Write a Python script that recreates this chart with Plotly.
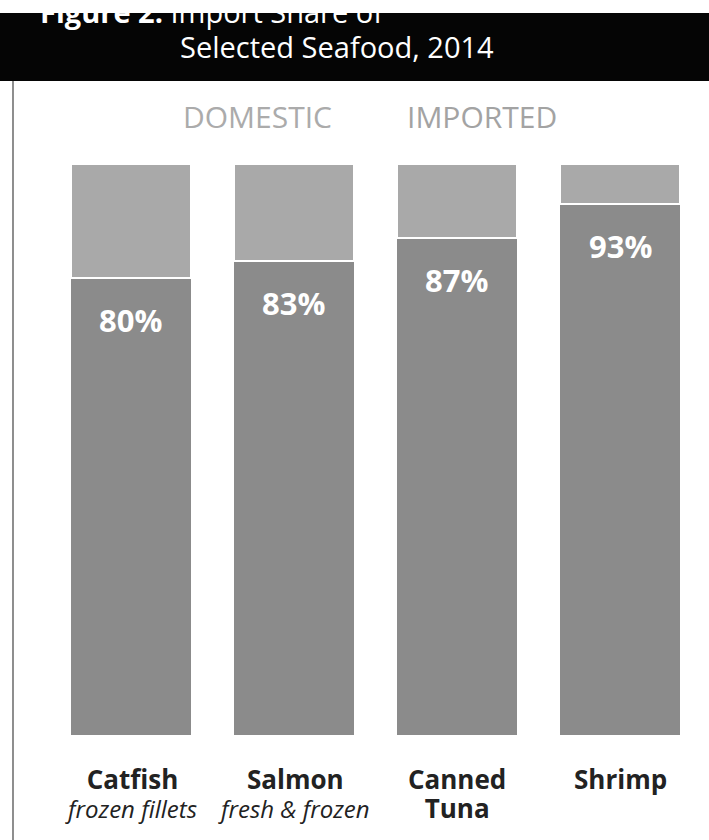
import plotly.graph_objects as go

# ---- data ----
categories = ["Catfish", "Salmon", "Canned Tuna", "Shrimp"]
cat_line1 = ["Catfish", "Salmon", "Canned", "Shrimp"]
cat_line2 = ["frozen fillets", "fresh & frozen", "Tuna", ""]
cat_line2_bold = [False, False, True, False]
imported = [80, 83, 87, 93]
domestic = [100 - v for v in imported]
series_names = ["DOMESTIC", "IMPORTED"]
title_line1 = "<b>Figure 2.</b> Import Share of"
title_line2 = "Selected Seafood, 2014"

W, H = 709, 840
FONT = "Open Sans"
C_DOM = "#a9a9a9"
C_IMP = "#8b8b8b"


def py(px):
    return 1 - px / H


def pxx(px):
    return px / W


fig = go.Figure()
fig.add_trace(go.Bar(x=categories, y=imported, name=series_names[1],
                     marker=dict(color=C_IMP, line=dict(width=0)),
                     hoverinfo="skip"))
fig.add_trace(go.Bar(x=categories, y=domestic, name=series_names[0],
                     marker=dict(color=C_DOM, line=dict(width=2, color="white")),
                     hoverinfo="skip"))

annotations = []
# percent labels inside imported segment
for c, v in zip(categories, imported):
    annotations.append(dict(x=c, y=v, xref="x", yref="y", text=f"<b>{v}%</b>",
                            showarrow=False, yanchor="middle", yshift=-42,
                            font=dict(family=FONT, size=31, color="white")))
# category labels (one annotation per category)
BIG = "<span style='font-size:26px'><b>{}</b></span>"
ITAL = "<span style='font-size:24px'><i>{}</i></span>"
for c, t, s, sb in zip(categories, cat_line1, cat_line2, cat_line2_bold):
    txt = BIG.format(t)
    if s:
        txt += "<br>" + (BIG.format(s) if sb else ITAL.format(s))
    annotations.append(dict(x=c, y=py(759), xref="x", yref="paper", text=txt,
                            showarrow=False, yanchor="top", align="center",
                            font=dict(family=FONT, size=22.5, color="#222222")))
# legend-like labels
annotations.append(dict(x=pxx(257), y=py(117), xref="paper", yref="paper", text=series_names[0],
                        showarrow=False, xanchor="center", yanchor="middle",
                        font=dict(family=FONT, size=30, color="#ababab")))
annotations.append(dict(x=pxx(482), y=py(117), xref="paper", yref="paper", text=series_names[1],
                        showarrow=False, xanchor="center", yanchor="middle",
                        font=dict(family=FONT, size=30, color="#a3a3a3")))
# title lines
annotations.append(dict(x=pxx(38), y=py(12), xref="paper", yref="paper", text=title_line1,
                        showarrow=False, xanchor="left", yanchor="middle",
                        font=dict(family=FONT, size=29, color="white")))
annotations.append(dict(x=pxx(178), y=py(46), xref="paper", yref="paper", text=title_line2,
                        showarrow=False, xanchor="left", yanchor="middle",
                        font=dict(family=FONT, size=29, color="white")))

shapes = [
    dict(type="rect", xref="paper", yref="paper", x0=0, x1=1, y0=py(81), y1=py(13),
         fillcolor="#050505", line=dict(width=0), layer="below"),
    dict(type="line", xref="paper", yref="paper", x0=pxx(13), x1=pxx(13), y0=0, y1=py(81),
         line=dict(color="#444444", width=1.2)),
]

fig.update_layout(
    width=W, height=H,
    margin=dict(l=0, r=0, t=0, b=0),
    paper_bgcolor="white", plot_bgcolor="white",
    barmode="stack", bargap=0.265,
    showlegend=False,
    xaxis=dict(domain=[pxx(49), pxx(701.6)], showticklabels=False, showgrid=False,
               zeroline=False, showline=False, ticks="", fixedrange=True),
    yaxis=dict(domain=[py(735), py(164)], range=[0, 100], showticklabels=False,
               showgrid=False, zeroline=False, showline=False, ticks="", fixedrange=True),
    annotations=annotations,
    shapes=shapes,
    font=dict(family=FONT),
)

fig.write_html("out.html")
